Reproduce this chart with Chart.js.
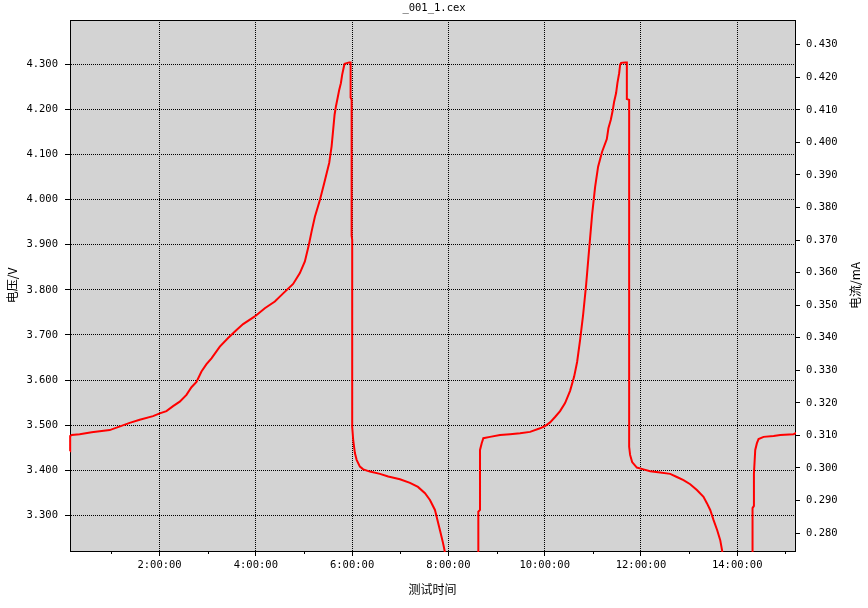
<!DOCTYPE html>
<html>
<head>
<meta charset="utf-8">
<script src="https://cdn.jsdelivr.net/npm/chart.js@4"></script>
<style>
  body { margin: 0; background: #fff; }
</style>
</head>
<body>
<canvas id="myChart" width="868" height="608"></canvas>
<script>
// test time in hours
const hours = [
    0.140, 0.140, 0.140, 0.150, 0.175, 0.341, 0.590, 0.965, 1.380, 1.588,
    1.865, 2.004, 2.143, 2.281, 2.420, 2.559, 2.663, 2.767, 2.871, 2.975,
    3.079, 3.252, 3.424, 3.599, 3.736, 3.979, 4.187, 4.395, 4.568, 4.775,
    4.915, 5.019, 5.102, 5.158, 5.227, 5.331, 5.420, 5.524, 5.574, 5.607,
    5.636, 5.663, 5.699, 5.732, 5.767, 5.794, 5.830, 5.844, 5.940, 5.969,
    5.969, 5.990, 5.990, 6.002, 6.002, 6.023, 6.058, 6.094, 6.162, 6.231,
    6.370, 6.578, 6.750, 6.994, 7.202, 7.368, 7.514, 7.617, 7.721, 7.825,
    7.888, 7.923, 7.960, 8.622, 8.622, 8.657, 8.657, 8.692, 8.726, 8.865,
    9.073, 9.281, 9.489, 9.697, 9.904, 10.008, 10.112, 10.216, 10.320, 10.424,
    10.528, 10.611, 10.674, 10.736, 10.798, 10.861, 10.923, 10.985, 11.048, 11.110,
    11.193, 11.291, 11.324, 11.374, 11.416, 11.443, 11.484, 11.511, 11.547, 11.568,
    11.588, 11.672, 11.707, 11.707, 11.755, 11.755, 11.775, 11.817, 11.915, 12.052,
    12.191, 12.399, 12.607, 12.746, 12.884, 13.023, 13.162, 13.299, 13.370, 13.439,
    13.507, 13.584, 13.647, 13.688, 13.720, 14.318, 14.318, 14.347, 14.347, 14.374,
    14.409, 14.443, 14.547, 14.755, 14.894, 15.171, 15.227
];

// voltage in V
const volts = [
    3.442, 3.465, 3.474, 3.476, 3.478, 3.480, 3.484, 3.489, 3.505, 3.512,
    3.520, 3.526, 3.531, 3.542, 3.552, 3.567, 3.584, 3.596, 3.619, 3.635,
    3.648, 3.674, 3.693, 3.711, 3.724, 3.741, 3.759, 3.774, 3.792, 3.813,
    3.837, 3.863, 3.900, 3.929, 3.962, 3.999, 4.036, 4.081, 4.118, 4.155,
    4.188, 4.206, 4.225, 4.243, 4.258, 4.277, 4.295, 4.301, 4.304, 4.304,
    4.226, 4.221, 3.920, 3.911, 3.496, 3.467, 3.438, 3.423, 3.408, 3.402,
    3.397, 3.392, 3.386, 3.380, 3.372, 3.363, 3.349, 3.334, 3.312, 3.267,
    3.239, 3.221, 3.150, 3.150, 3.308, 3.312, 3.445, 3.460, 3.471, 3.474,
    3.478, 3.480, 3.482, 3.485, 3.493, 3.498, 3.506, 3.518, 3.531, 3.549,
    3.576, 3.607, 3.640, 3.689, 3.744, 3.811, 3.889, 3.966, 4.028, 4.073,
    4.106, 4.134, 4.158, 4.177, 4.199, 4.217, 4.236, 4.258, 4.280, 4.299,
    4.303, 4.304, 4.304, 4.223, 4.221, 3.452, 3.434, 3.418, 3.406, 3.402,
    3.398, 3.395, 3.392, 3.385, 3.378, 3.369, 3.356, 3.341, 3.327, 3.312,
    3.290, 3.267, 3.245, 3.221, 3.150, 3.150, 3.316, 3.321, 3.393, 3.445,
    3.460, 3.469, 3.474, 3.476, 3.478, 3.480, 3.483
];

const hourTicks = [2, 4, 6, 8, 10, 12, 14];
const minorHourTicks = [1, 3, 5, 7, 9, 11, 13, 15];
const voltTicks = [3.3, 3.4, 3.5, 3.6, 3.7, 3.8, 3.9, 4.0, 4.1, 4.2, 4.3];
const currentTicks = [0.28, 0.29, 0.30, 0.31, 0.32, 0.33, 0.34, 0.35, 0.36, 0.37, 0.38, 0.39, 0.40, 0.41, 0.42, 0.43];

const monoFont = 'DejaVu Sans Mono';
const cjkFont = '"Noto Sans CJK SC"';

// gray plot background, top frame line, minor x ticks, right axis title
const plotDecor = {
    id: 'plotDecor',
    beforeDraw(chart) {
        const { ctx, chartArea: a } = chart;
        ctx.save();
        ctx.fillStyle = '#d3d3d3';
        ctx.fillRect(a.left, a.top, a.right - a.left, a.bottom - a.top);
        ctx.restore();
    },
    afterDraw(chart) {
        const { ctx, chartArea: a } = chart;
        const xs = chart.scales.x;
        ctx.save();
        ctx.strokeStyle = '#000';
        ctx.lineWidth = 1;
        ctx.beginPath();
        ctx.moveTo(a.left, a.top + 0.5);
        ctx.lineTo(a.right + 1, a.top + 0.5);
        minorHourTicks.forEach(h => {
            const px = Math.round(xs.getPixelForValue(h)) + 0.5;
            ctx.moveTo(px, a.bottom);
            ctx.lineTo(px, a.bottom + 3);
        });
        ctx.stroke();

        ctx.fillStyle = '#000';
        ctx.font = '12px ' + cjkFont;
        ctx.textAlign = 'center';
        ctx.textBaseline = 'middle';
        ctx.translate(855, (a.top + a.bottom) / 2);
        ctx.rotate(-Math.PI / 2);
        ctx.fillText('电流/mA', 0, 0);
        ctx.restore();
    }
};

window.onload = function () {
    const ctx = document.getElementById('myChart').getContext('2d');

    const points = hours.map((h, i) => ({ x: h, y: volts[i] }));

    const myChart = new Chart(ctx, {
        type: 'line',
        data: {
            datasets: [{
                data: points,
                borderColor: 'rgb(255,0,0)',
                borderWidth: 2,
                pointRadius: 0,
                tension: 0,
                fill: false,
                clip: { left: 3, top: 1, right: 1, bottom: 1 },
                yAxisID: 'y'
            }]
        },
        options: {
            responsive: false,
            animation: false,
            layout: { padding: 0 },
            plugins: {
                legend: { display: false },
                tooltip: { enabled: false },
                title: {
                    display: true,
                    text: '_001_1.cex',
                    color: '#000',
                    font: { family: monoFont, size: 10.5, weight: 'normal' },
                    padding: { top: 2, bottom: 5.4 }
                }
            },
            scales: {
                x: {
                    type: 'linear',
                    position: 'bottom',
                    min: 0.14,
                    max: 15.2,
                    afterBuildTicks: s => { s.ticks = hourTicks.map(v => ({ value: v })); },
                    afterFit: s => { s.height = 57; },
                    ticks: {
                        color: '#000',
                        padding: 3,
                        maxRotation: 0,
                        font: { family: monoFont, size: 10.5 },
                        callback: v => v + ':00:00'
                    },
                    grid: { color: '#000', tickLength: 5, tickColor: '#000' },
                    border: { color: '#000', width: 1, dash: [1, 1] },
                    title: {
                        display: true,
                        text: '测试时间',
                        color: '#000',
                        font: { family: cjkFont, size: 12 },
                        padding: { top: 0, bottom: 11 }
                    }
                },
                y: {
                    type: 'linear',
                    position: 'left',
                    min: 3.221,
                    max: 4.398,
                    afterBuildTicks: s => { s.ticks = voltTicks.map(v => ({ value: v })); },
                    afterFit: s => { s.width = 70; },
                    ticks: {
                        color: '#000',
                        padding: 7,
                        font: { family: monoFont, size: 10.5 },
                        callback: v => v.toFixed(3)
                    },
                    grid: { color: '#000', tickLength: 5, tickColor: '#000' },
                    border: { color: '#000', width: 1, dash: [1, 1] },
                    title: {
                        display: true,
                        text: '电压/V',
                        color: '#000',
                        font: { family: cjkFont, size: 12 },
                        padding: { top: 5, bottom: 0 }
                    }
                },
                y1: {
                    type: 'linear',
                    position: 'right',
                    min: 0.2745,
                    max: 0.4376,
                    afterBuildTicks: s => { s.ticks = currentTicks.map(v => ({ value: v })); },
                    afterFit: s => { s.width = 73; },
                    ticks: {
                        color: '#000',
                        padding: 6,
                        font: { family: monoFont, size: 10.5 },
                        callback: v => v.toFixed(3)
                    },
                    grid: { drawOnChartArea: false, tickLength: 5, tickColor: '#000' },
                    border: { color: '#000', width: 1 }
                }
            }
        },
        plugins: [plotDecor]
    });
};
</script>
</body>
</html>
